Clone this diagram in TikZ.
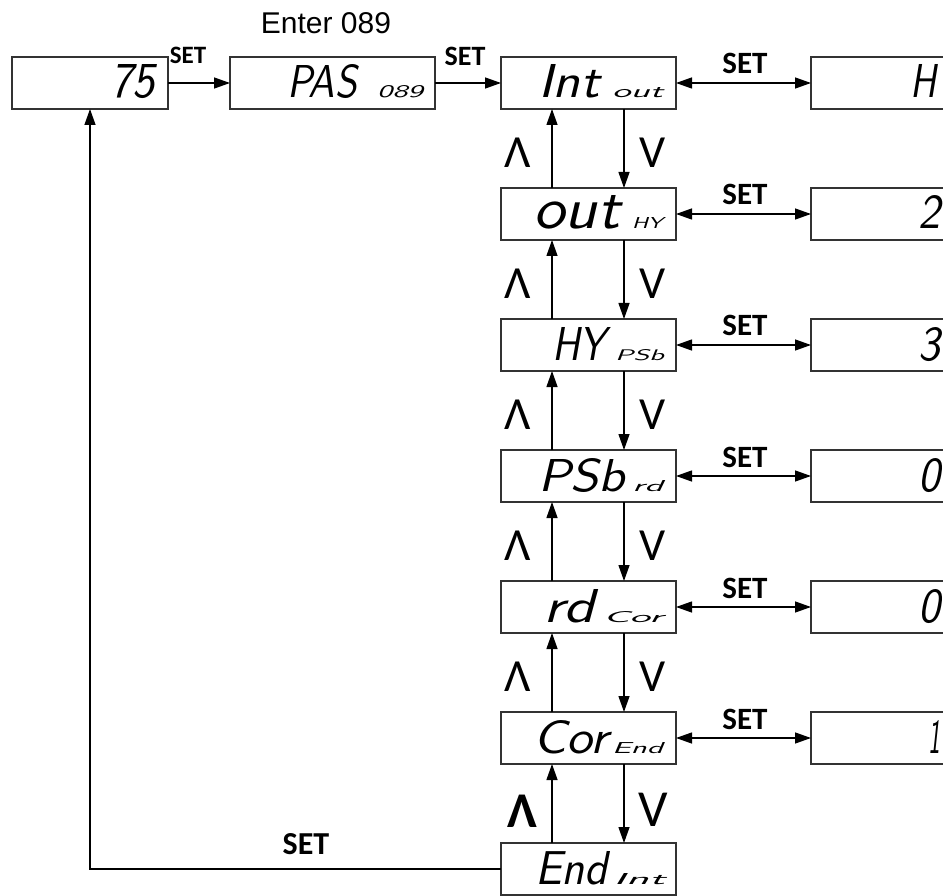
\documentclass[tikz,border=0pt]{standalone}
\usepackage{fontspec}
\usepackage{graphicx}
\setmainfont{Liberation Sans}
\newfontfamily\calfont{Carlito}
\usetikzlibrary{arrows.meta}
\newcommand\segtext[3]{\resizebox{#1pt}{#2pt}{\sffamily\itshape #3}}
\begin{document}
\begin{tikzpicture}[x=1pt,y=-1pt,
  box/.style={draw=black!80,line width=1.3pt,fill=white,inner sep=0pt,outer sep=0pt,anchor=north west,minimum height=52pt},
  mainbox/.style={box,minimum width=175pt},
  valbox/.style={box,minimum width=200pt},
  con/.style={line width=1.3pt,draw=black},
  tip/.style={-{Triangle[length=16pt,width=11pt]}},
  dtip/.style={{Triangle[length=16pt,width=11pt]}-{Triangle[length=16pt,width=11pt]}},
  setlab/.style={font=\calfont\bfseries\fontsize{31}{31}\selectfont,inner sep=1pt,fill=white},
  uplab/.style={font=\calfont\fontsize{46}{46}\selectfont,inner sep=0pt},
  seg/.style={inner sep=0pt,outer sep=0pt,anchor=base west}
]
\clip (0,0) rectangle (943,896);
\fill[white] (0,0) rectangle (943,896);

% first row
\node[box,minimum width=156pt] (b75) at (12,57) {};
\node[box,minimum width=205pt] (pas) at (230,57) {};
\node[seg] (t75) at (110,98) {\segtext{45}{33}{75}};
\node[seg] (tpas) at (287,98) {\segtext{70}{33}{PAS}};
\node[seg] (tpass) at (377,98) {\segtext{46}{12}{089}};
\node[font=\fontsize{30}{30}\selectfont,inner sep=0pt] (enter) at (326,23) {Enter 089};

% main column
\node[mainbox] (r0) at (501,57) {};
\node[mainbox] (r1) at (501,188) {};
\node[mainbox] (r2) at (501,319) {};
\node[mainbox] (r3) at (501,450) {};
\node[mainbox] (r4) at (501,581) {};
\node[mainbox] (r5) at (501,712) {};
\node[mainbox] (r6) at (501,843) {};

% value boxes
\node[valbox] (s0) at (811,57) {};
\node[valbox] (s1) at (811,188) {};
\node[valbox] (s2) at (811,319) {};
\node[valbox] (s3) at (811,450) {};
\node[valbox] (s4) at (811,581) {};
\node[valbox] (s5) at (811,712) {};

% display texts
\node[seg] (m0) at (538,98) {\segtext{62}{33}{Int}};
\node[seg] (n0) at (612,98) {\segtext{51}{10}{out}};
\node[seg] (m1) at (533,229) {\segtext{87}{33}{out}};
\node[seg] (n1) at (632,229) {\segtext{31}{11}{HY}};
\node[seg] (m2) at (552,360) {\segtext{54}{33}{HY}};
\node[seg] (n2) at (615,360) {\segtext{49}{11}{PSb}};
\node[seg] (m3) at (538,491) {\segtext{87}{33}{PSb}};
\node[seg] (n3) at (632,491) {\segtext{31}{11}{rd}};
\node[seg] (m4) at (543,622) {\segtext{52}{33}{rd}};
\node[seg] (n4) at (603,622) {\segtext{60}{11}{Cor}};
\node[seg] (m5) at (533,753) {\segtext{75}{33}{Cor}};
\node[seg] (n5) at (612,753) {\segtext{51}{11}{End}};
\node[seg] (m6) at (535,884) {\segtext{73}{33}{End}};
\node[seg] (n6) at (613,884) {\segtext{52}{11}{Int}};

\node[seg] (v0) at (910,98) {\segtext{26}{33}{H}};
\node[seg] (v1) at (918,229) {\segtext{22}{33}{2}};
\node[seg] (v2) at (918,360) {\segtext{22}{33}{3}};
\node[seg] (v3) at (918,491) {\segtext{22}{33}{0}};
\node[seg] (v4) at (918,622) {\segtext{22}{33}{0}};
\node[seg] (v5) at (928,753) {\segtext{12}{33}{1}};

% top arrows
\draw[con,tip] (b75.east) -- (pas.west);
\draw[con,tip] (pas.east) -- (r0.west);
\node[setlab,fill=none,font=\calfont\bfseries\fontsize{25}{25}\selectfont] (set1) at (188,55) {SET};
\node[setlab,fill=none,font=\calfont\bfseries\fontsize{28}{28}\selectfont] (set2) at (465,56) {SET};

% vertical arrows
\coordinate (upx) at (552,0);
\coordinate (dnx) at (624,0);
\foreach \a/\b in {r0/r1,r1/r2,r2/r3,r3/r4,r4/r5,r5/r6}{
  \draw[con,tip] (\b.north -| upx) -- (\a.south -| upx);
  \draw[con,tip] (\a.south -| dnx) -- (\b.north -| dnx);
}
\foreach \y in {153,284,415,546,677}{
  \node[uplab] at (518,\y) {Λ};
  \node[uplab] at (653,\y) {V};
}
\node[uplab,font=\calfont\bfseries\fontsize{50}{50}\selectfont] (lastup) at (522,811) {Λ};
\node[uplab,font=\calfont\fontsize{52}{52}\selectfont] (lastdn) at (653,810) {V};

% SET double arrows
\foreach \i in {0,...,5}{
  \draw[con,dtip] (r\i.east) -- (s\i.west);
}
\foreach \y in {63,194,325,457,588,719}{
  \node[setlab] at (745,\y) {SET};
}

% return
\coordinate (ret) at (90,0);
\draw[con,tip] (r6.west) -| (b75.south -| ret);
\node[setlab,fill=none,font=\calfont\bfseries\fontsize{32}{32}\selectfont] (setb) at (306,844) {SET};
\end{tikzpicture}
\end{document}
